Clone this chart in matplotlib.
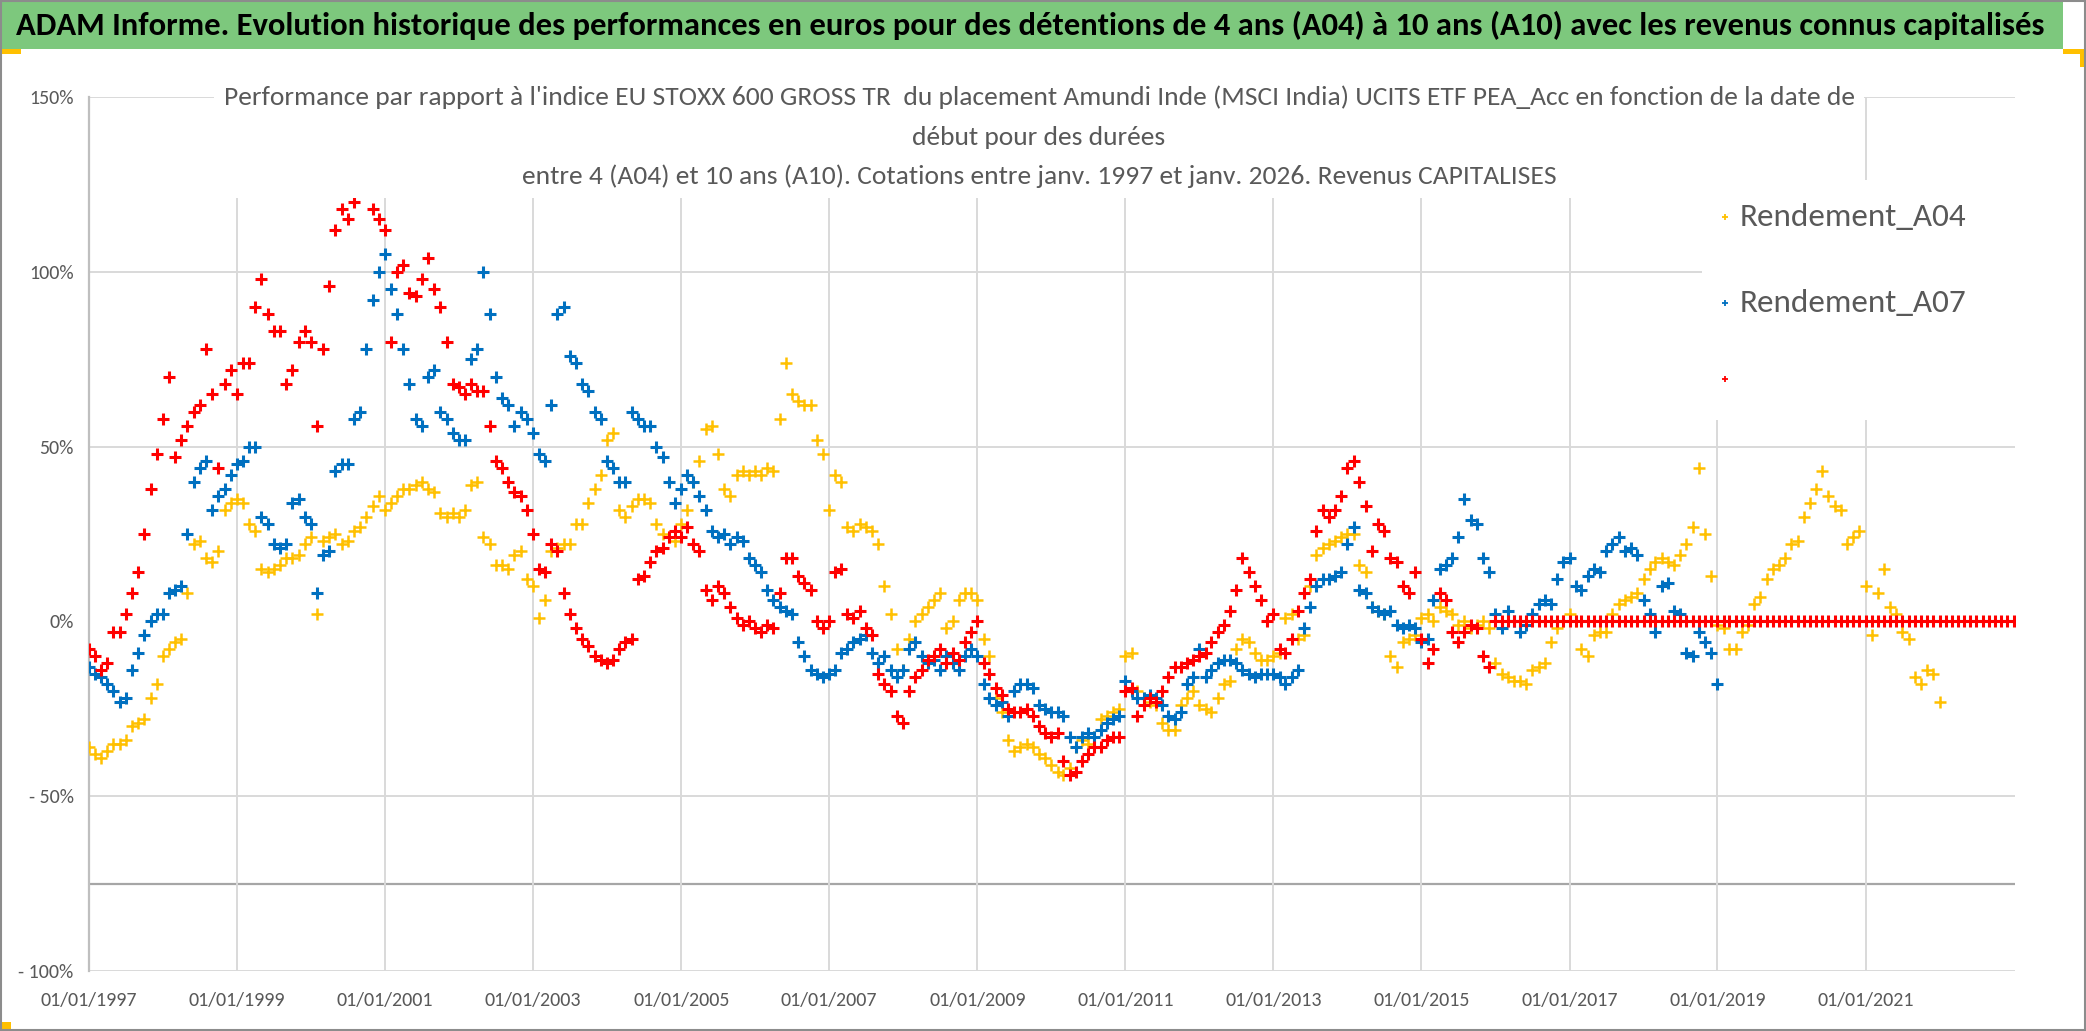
import matplotlib
matplotlib.use("Agg")
import matplotlib.pyplot as plt
from matplotlib import font_manager
from matplotlib.patches import Rectangle
from matplotlib.lines import Line2D
import pandas as pd

# ---------------------------------------------------------------------------
# Data (monthly, in %)
# ---------------------------------------------------------------------------
start_a04 = "1997-01-01"
a04 = [
    -36, -38, -39, -37, -35, -35, -34, -30, -29, -28, -22, -18,   # 1997
    -10, -8, -6, -5, 8, 22, 23, 18, 17, 20, 32, 34,               # 1998
    35, 34, 28, 26, 15, 14, 15, 16, 18, 18, 19, 22,               # 1999
    24, 2, 23, 24, 25, 22, 23, 26, 27, 30, 33, 36,                # 2000
    32, 34, 36, 38, 38, 39, 40, 38, 37, 31, 30, 31,               # 2001
    30, 32, 39, 40, 24, 22, 16, 16, 15, 19, 20, 12,               # 2002
    10, 1, 6, 20, 21, 22, 22, 28, 28, 34, 38, 42,                 # 2003
    52, 54, 32, 30, 33, 35, 35, 34, 28, 25, 24, 23,               # 2004
    28, 32, 40, 46, 55, 56, 48, 38, 36, 42, 43, 42,               # 2005
    43, 42, 44, 43, 58, 74, 65, 63, 62, 62, 52, 48,               # 2006
    32, 42, 40, 27, 26, 28, 27, 26, 22, 10, 2, -8,                # 2007
    -14, -5, 0, 2, 4, 6, 8, -2, 0, 6, 8, 8,                       # 2008
    6, -5, -10, -22, -26, -34, -37, -36, -35, -36, -38, -39,      # 2009
    -41, -43, -44, -42, -36, -34, -35, -33, -28, -27, -26, -25,   # 2010
    -10, -9, -20, -22, -23, -24, -29, -31, -31, -24, -22, -20,    # 2011
    -24, -25, -26, -22, -18, -17, -8, -5, -6, -9, -11, -11,       # 2012
    -10, -9, 1, 2, -5, -4, 10, 19, 21, 22, 23, 24,                # 2013
    25, 25, 16, 14, 4, 3, 2, -10, -13, -6, -5, -4,                # 2014
    1, 2, 0, 4, 3, 2, -1, 0, -2, -1, 0, -2,                       # 2015
    -12, -15, -16, -17, -17, -18, -14, -13, -12, -6, -2, 0,       # 2016
    2, 0, -8, -10, -4, -3, -3, 2, 5, 6, 7, 8,                     # 2017
    12, 15, 17, 18, 17, 16, 19, 22, 27, 44, 25, 13,               # 2018
    -1, -2, -8, -8, -3, -1, 5, 7, 12, 15, 16, 18,                 # 2019
    22, 23, 30, 34, 38, 43, 36, 33, 32, 22, 24, 26,               # 2020
    10, -4, 8, 15, 4, 2, -3, -5, -16, -18, -14, -15,              # 2021
    -23,                                                          # 2022
]

start_a07 = "1997-01-01"
a07 = [
    -13, -15, -16, -18, -20, -23, -22, -14, -9, -4, 0, 2,         # 1997
    2, 8, 9, 10, 25, 40, 44, 46, 32, 36, 38, 42,                  # 1998
    45, 46, 50, 50, 30, 28, 22, 21, 22, 34, 35, 30,               # 1999
    28, 8, 19, 20, 43, 45, 45, 58, 60, 78, 92, 100,               # 2000
    105, 95, 88, 78, 68, 58, 56, 70, 72, 60, 58, 54,              # 2001
    52, 52, 75, 78, 100, 88, 70, 64, 62, 56, 60, 58,              # 2002
    54, 48, 46, 62, 88, 90, 76, 74, 68, 66, 60, 58,               # 2003
    46, 44, 40, 40, 60, 58, 56, 56, 50, 47, 40, 34,               # 2004
    38, 42, 40, 36, 32, 26, 24, 25, 22, 24, 23, 18,               # 2005
    16, 14, 9, 6, 4, 3, 2, -6, -10, -14, -15, -16,                # 2006
    -15, -14, -9, -8, -6, -5, -4, -9, -12, -10, -14, -16,         # 2007
    -14, -8, -6, -10, -12, -11, -14, -10, -12, -14, -10, -8,      # 2008
    -10, -18, -22, -24, -23, -27, -20, -18, -18, -19, -24, -25,   # 2009
    -26, -26, -27, -33, -36, -33, -32, -33, -31, -29, -28, -27,   # 2010
    -17, -20, -22, -22, -21, -22, -24, -27, -28, -26, -18, -16,   # 2011
    -8, -16, -14, -12, -11, -11, -12, -14, -15, -16, -15, -15,    # 2012
    -15, -16, -18, -16, -14, -2, 4, 10, 12, 12, 13, 14,           # 2013
    22, 27, 9, 8, 4, 3, 2, 3, -1, -2, -1, -2,                     # 2014
    -6, -5, 6, 15, 16, 18, 24, 35, 29, 28, 18, 14,                # 2015
    2, -2, 3, 0, -3, -1, 2, 5, 6, 5, 12, 17,                      # 2016
    18, 10, 9, 13, 15, 14, 20, 22, 24, 20, 21, 19,                # 2017
    6, 2, -3, 10, 11, 3, 2, -9, -10, -3, -6, -9,                  # 2018
    -18,                                                          # 2019
]

start_a10 = "1997-01-01"
a10 = [
    -8, -10, -14, -12, -3, -3, 2, 8, 14, 25, 38, 48,              # 1997
    58, 70, 47, 52, 56, 60, 62, 78, 65, 44, 68, 72,               # 1998
    65, 74, 74, 90, 98, 88, 83, 83, 68, 72, 80, 83,               # 1999
    80, 56, 78, 96, 112, 118, 115, 120, 124, 123, 118, 115,       # 2000
    112, 80, 100, 102, 94, 93, 98, 104, 95, 90, 80, 68,           # 2001
    67, 65, 68, 66, 66, 56, 46, 44, 40, 37, 36, 32,               # 2002
    25, 15, 14, 22, 20, 8, 2, -2, -5, -7, -10, -11,               # 2003
    -12, -11, -8, -6, -5, 12, 13, 17, 20, 21, 24, 26,             # 2004
    24, 27, 22, 20, 9, 6, 10, 8, 4, 1, -1, 0,                     # 2005
    -2, -3, -1, -2, 8, 18, 18, 13, 11, 9, 0, -2,                  # 2006
    0, 14, 15, 2, 1, 3, -2, -4, -15, -18, -20, -27,               # 2007
    -29, -20, -16, -14, -11, -10, -8, -12, -9, -11, -6, -3,       # 2008
    0, -12, -15, -19, -21, -25, -26, -26, -25, -27, -30, -32,     # 2009
    -33, -32, -40, -44, -43, -40, -38, -36, -36, -34, -33, -33,   # 2010
    -20, -19, -27, -24, -22, -23, -20, -16, -13, -13, -12, -11,   # 2011
    -10, -9, -6, -3, -1, 3, 9, 18, 14, 10, 6, 0,                  # 2012
    2, -8, -9, -5, 3, 8, 12, 26, 32, 30, 32, 36,                  # 2013
    44, 46, 40, 33, 20, 28, 26, 18, 17, 10, 8, 14,                # 2014
    -5, -12, -8, 8, 6, -3, -6, -3, -1, -2, -10, -13,              # 2015
    0, 0, 0, 0, 0, 0, 0, 0, 0, 0, 0, 0,                           # 2016
    0, 0, 0, 0, 0, 0, 0, 0, 0, 0, 0, 0,                           # 2017
    0, 0, 0, 0, 0, 0, 0, 0, 0, 0, 0, 0,                           # 2018
    0, 0, 0, 0, 0, 0, 0, 0, 0, 0, 0, 0,                           # 2019
    0, 0, 0, 0, 0, 0, 0, 0, 0, 0, 0, 0,                           # 2020
    0, 0, 0, 0, 0, 0, 0, 0, 0, 0, 0, 0,                           # 2021
    0, 0, 0, 0, 0, 0, 0, 0, 0, 0, 0, 0,                           # 2022
    0,                                                            # 2023
]

series_labels = ["Rendement_A04", "Rendement_A07", ""]
series_colors = ["#FFC000", "#0070C0", "#FF0000"]

x_tick_years = list(range(1997, 2022, 2))
x_tick_labels = [f"01/01/{y}" for y in x_tick_years]
y_ticks = [-100, -50, 0, 50, 100, 150]
y_tick_labels = ["- 100%", "- 50%", "0%", "50%", "100%", "150%"]
y_grid = [150, 100, 50, -50, -100]

band_title = ("ADAM Informe. Evolution historique des performances en euros pour des "
              "détentions de 4 ans (A04) à 10 ans (A10) avec les revenus connus capitalisés")
chart_title = [
    "Performance par rapport à l'indice EU STOXX 600 GROSS TR  du placement Amundi Inde "
    "(MSCI India) UCITS ETF PEA_Acc en fonction de la date de",
    "début pour des durées",
    "entre 4 (A04) et 10 ans (A10). Cotations entre janv. 1997 et janv. 2026. Revenus CAPITALISES",
]

# ---------------------------------------------------------------------------
# Fonts (Calibri look-alike if present)
# ---------------------------------------------------------------------------
have = {f.name for f in font_manager.fontManager.ttflist}
main_font = "DejaVu Sans"
for cand in ["Carlito", "Lato", "Open Sans"]:
    if cand in have:
        main_font = cand
        break
plt.rcParams["font.family"] = [main_font, "DejaVu Sans"]

W, H = 2086, 1031
fig = plt.figure(figsize=(W / 100, H / 100), dpi=100)
renderer = fig.canvas.get_renderer()


def fit(text, width_px, weight="normal", base=20.0):
    t = fig.text(0, 0, text, fontsize=base, fontweight=weight)
    w = t.get_window_extent(renderer).width
    t.remove()
    return base * width_px / w


GREY_TXT = "#595959"
GRID = "#D9D9D9"

# ---------------------------------------------------------------------------
# Axes
# ---------------------------------------------------------------------------
ax = fig.add_axes([89 / W, 1 - 971 / H, (2015 - 89) / W, (971 - 97) / H])
ax.set_zorder(0)

for v in y_grid:
    ax.axhline(v, color=GRID, lw=1.4, zorder=1)
ax.axhline(-75, color="#A6A6A6", lw=1.6, zorder=1)
for y in x_tick_years[1:]:
    ax.axvline(pd.Timestamp(f"{y}-01-01"), color=GRID, lw=1.4, zorder=1)

d04 = pd.date_range(start_a04, periods=len(a04), freq="MS")
d07 = pd.date_range(start_a07, periods=len(a07), freq="MS")
d10 = pd.date_range(start_a10, periods=len(a10), freq="MS")
ax.plot(d04, a04, ls="none", marker="+", ms=9, mew=1.8, color=series_colors[0], zorder=3)
ax.plot(d07, a07, ls="none", marker="+", ms=9, mew=2.2, color=series_colors[1], zorder=4)
ax.plot(d10, a10, ls="none", marker="+", ms=9, mew=2.2, color=series_colors[2], zorder=5)

ax.set_xlim(pd.Timestamp("1997-01-01"), pd.Timestamp("2023-01-08"))
ax.set_ylim(-100, 150)
ax.set_xticks([pd.Timestamp(f"{y}-01-01") for y in x_tick_years])
tick_fs = fit("01/01/1997", 84) * 1.15
ax.set_xticklabels(x_tick_labels, fontsize=tick_fs, color=GREY_TXT)
ax.set_yticks(y_ticks)
ax.set_yticklabels(y_tick_labels, fontsize=tick_fs, color=GREY_TXT)
ax.tick_params(axis="x", length=0, pad=15)
ax.tick_params(axis="y", length=0, pad=11)
for side in ["top", "right", "bottom"]:
    ax.spines[side].set_visible(False)
ax.spines["left"].set_color("#BFBFBF")
ax.spines["left"].set_linewidth(1.6)
ax.set_facecolor("white")

# ---------------------------------------------------------------------------
# Title band
# ---------------------------------------------------------------------------
fig.add_artist(Rectangle((0, 1 - 49 / H), 2063 / W, 49 / H, transform=fig.transFigure,
                         facecolor="#7DC87D", edgecolor="none", zorder=1))
fig.text(16 / W, 1 - 25 / H, band_title, ha="left", va="center", color="black",
         fontweight="bold", fontsize=fit(band_title, 2036, "bold"), zorder=3)

# white box behind the chart title
fig.add_artist(Rectangle((214 / W, 1 - 198 / H), (1864 - 214) / W, (198 - 75) / H,
                         transform=fig.transFigure, facecolor="white", edgecolor="none",
                         zorder=1))
t_fs = fit(chart_title[0], 1626)
for line, ypx in zip(chart_title, [97, 137, 176]):
    fig.text(1039 / W, 1 - ypx / H, line, ha="center", va="center", color=GREY_TXT,
             fontsize=t_fs, zorder=3)

# legend area
fig.add_artist(Rectangle((1702 / W, 1 - 420 / H), (2015 - 1702) / W, (420 - 180) / H,
                         transform=fig.transFigure, facecolor="white", edgecolor="none",
                         zorder=1))
leg_fs = fit("Rendement_A04", 226)
for lab, col, ypx in zip(series_labels, series_colors, [217, 303, 379]):
    fig.add_artist(Line2D([1725 / W], [1 - ypx / H], transform=fig.transFigure, ls="none",
                          marker="+", ms=5, mew=1.3, color=col, zorder=4))
    if lab:
        fig.text(1740 / W, 1 - ypx / H, lab, ha="left", va="center", color=GREY_TXT,
                 fontsize=leg_fs, zorder=4)

# small selection handles and outer frame
for (x0, y0, w, h) in [(0, 49, 21, 5), (2063, 49, 18, 5), (2080, 49, 5, 18), (0, 1022, 11, 9)]:
    fig.add_artist(Rectangle((x0 / W, 1 - (y0 + h) / H), w / W, h / H, transform=fig.transFigure,
                             facecolor="#FFC000", edgecolor="none", zorder=2))
fig.add_artist(Rectangle((0.0005, 0.001), 0.999, 0.998, transform=fig.transFigure,
                         facecolor="none", edgecolor="#8C8C8C", lw=1.5, zorder=6))

fig.savefig("out.png", dpi=100, facecolor="white")
